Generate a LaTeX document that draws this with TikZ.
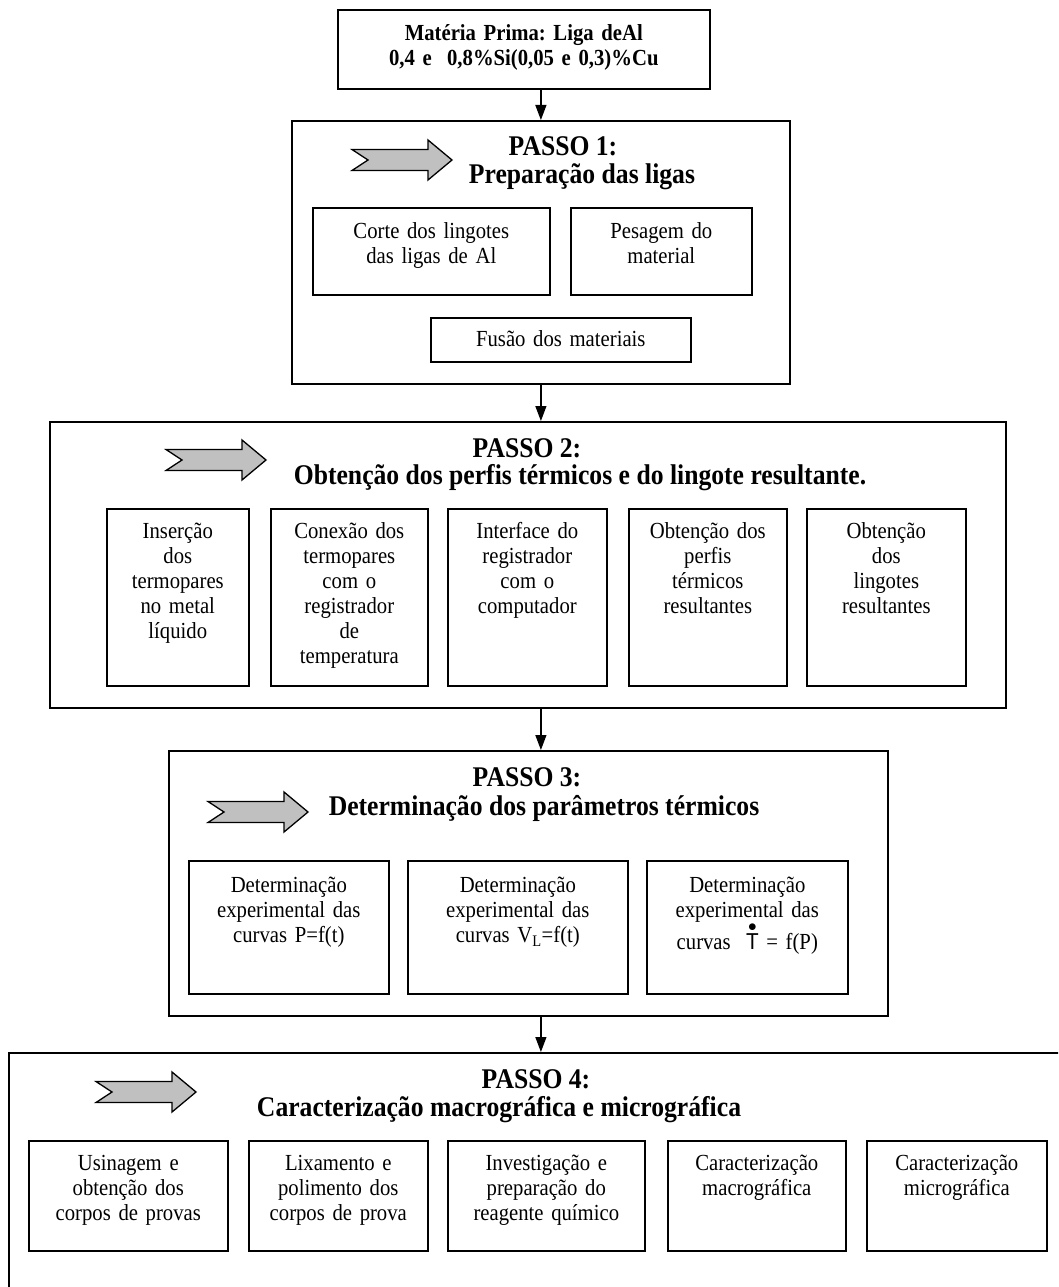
\documentclass[tikz,border=0pt]{standalone}
\usepackage{fontspec}
\setmainfont[FakeStretch=0.9]{Liberation Serif}
\newfontfamily\fonteArial[FakeStretch=0.9]{Liberation Sans}
\usetikzlibrary{arrows.meta}
\definecolor{cinza}{RGB}{192,192,192}
\frenchspacing
\tikzset{
  passo/.style 2 args={draw, line width=1.8pt, anchor=north west, inner sep=0pt, minimum width=#1, minimum height=#2},
  caixa/.style 2 args={draw, line width=1.6pt, anchor=north west, inner sep=0pt, align=center, text width=#1, text height=30pt, text depth=#2, font=\fontsize{23}{25}\selectfont},
  titulo/.style={anchor=base, inner sep=0pt, font=\fontsize{28.5}{30}\selectfont\bfseries},
  seta/.style={line width=1.2pt, -{Triangle[length=15pt,width=11pt]}},
  setacinza/.pic={\draw[fill=cinza, line width=1.3pt] (-50,-10.5) -- (26,-10.5) -- (26,-20) -- (50,0) -- (26,20) -- (26,10.5) -- (-50,10.5) -- (-34,0) -- cycle;}
}
\newcommand{\tponto}{\ooalign{{\fonteArial T}\cr\hidewidth\smash{\raisebox{.8em}{$\scriptstyle\bullet$}}\hidewidth\cr}}
\begin{document}
\begin{tikzpicture}[x=1pt, y=-1pt]
            \useasboundingbox (0,0) rectangle (1058,1287);
            \clip (0,0) rectangle (1058,1287);

            \node[caixa={372pt}{48pt}, text height=31pt, font=\fontsize{23}{25}\selectfont\bfseries] (topo) at (337,9) {Matéria Prima: Liga deAl\\0,4 e~ 0,8\%Si(0,05 e 0,3)\%Cu};

            % passo 1
            \node[passo={498pt}{263pt}] (passo1) at (291,120) {};
            \pic at (402,160) {setacinza};
            \node[titulo] (t1a) at (563,155) {PASSO 1:};
            \node[titulo] (t1b) at (582,183) {Preparação das ligas};
            \node[caixa={237pt}{56pt}, text height=31pt] (c11) at (312,207) {Corte dos lingotes\\das ligas de Al};
            \node[caixa={181pt}{56pt}, text height=31pt] (c12) at (570,207) {Pesagem do\\material};
            \node[caixa={260pt}{15pt}, text height=29pt] (c13) at (430,317) {Fusão dos materiais};

            % passo 2
            \node[passo={956pt}{286pt}] (passo2) at (49,421) {};
            \pic at (216,460) {setacinza};
            \node[titulo] (t2a) at (527,457) {PASSO 2:};
            \node[titulo] (t2b) at (580,484) {Obtenção dos perfis térmicos e do lingote resultante.};
            \node[caixa={142pt}{147pt}] (c21) at (106,508) {Inserção\\dos\\termopares\\no metal\\líquido};
            \node[caixa={157pt}{147pt}] (c22) at (270,508) {Conexão dos\\termopares\\com o\\registrador\\de\\temperatura};
            \node[caixa={159pt}{147pt}] (c23) at (447,508) {Interface do\\registrador\\com o\\computador};
            \node[caixa={158pt}{147pt}] (c24) at (628,508) {Obtenção dos\\perfis\\térmicos\\resultantes};
            \node[caixa={159pt}{147pt}] (c25) at (806,508) {Obtenção\\dos\\lingotes\\resultantes};

            % passo 3
            \node[passo={719pt}{265pt}] (passo3) at (168,750) {};
            \pic at (258,812) {setacinza};
            \node[titulo] (t3a) at (527,786) {PASSO 3:};
            \node[titulo] (t3b) at (544,815) {Determinação dos parâmetros térmicos};
            \node[caixa={200pt}{101pt}, text height=32pt] (c31) at (188,860) {Determinação\\experimental das\\curvas P=f(t)};
            \node[caixa={220pt}{101pt}, text height=32pt] (c32) at (407,860) {Determinação\\experimental das\\curvas V\textsubscript{L}=f(t)};
            \node[caixa={201pt}{101pt}, text height=32pt] (c33) at (646,860) {Determinação\\experimental das\\[7pt]curvas~ \tponto{} = f(P)};

            % passo 4
            \node[passo={1100pt}{300pt}] (passo4) at (8,1052) {};
            \pic at (146,1092) {setacinza};
            \node[titulo] (t4a) at (536,1088) {PASSO 4:};
            \node[titulo] (t4b) at (499,1116) {Caracterização macrográfica e micrográfica};
            \node[caixa={199pt}{80pt}] (c41) at (28,1140) {Usinagem e\\obtenção dos\\corpos de provas};
            \node[caixa={179pt}{80pt}] (c42) at (248,1140) {Lixamento e\\polimento dos\\corpos de prova};
            \node[caixa={197pt}{80pt}] (c43) at (447,1140) {Investigação e\\preparação do\\reagente químico};
            \node[caixa={178pt}{80pt}] (c44) at (667,1140) {Caracterização\\macrográfica};
            \node[caixa={180pt}{80pt}] (c45) at (866,1140) {Caracterização\\micrográfica};

            \draw[seta] (topo.south -| passo1.north) -- (passo1.north);
            \draw[seta] (passo1.south) -- (passo1.south |- passo2.north);
            \draw[seta] (passo1.south |- passo2.south) -- (passo1.south |- passo3.north);
            \draw[seta] (passo1.south |- passo3.south) -- (passo1.south |- passo4.north);
        \end{tikzpicture}
\end{document}
